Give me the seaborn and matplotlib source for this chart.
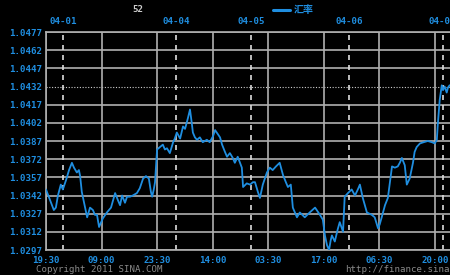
import matplotlib
matplotlib.use("Agg")
import matplotlib.pyplot as plt
import seaborn as sns
import pandas as pd

# elapsed trading hours (position along the axis) and exchange rate
hours = [0, 1.0, 1.9, 2.4, 2.9, 3.6, 4.1, 4.9, 5.6, 6.3, 6.8, 7.5, 8.0, 8.3, 8.7,
         9.5, 10.0, 10.7, 11.4, 11.9, 12.4, 12.9, 13.4, 13.8, 14.8, 15.8, 16.3,
         16.8, 17.5, 18.0, 18.5, 19.2, 19.7, 20.4, 21.1, 22.1, 22.8, 23.6, 24.3,
         25.0, 25.5, 25.8, 26.2, 26.5, 27.0, 27.7, 28.4, 28.9, 29.4, 30.1, 30.9,
         31.3, 31.8, 32.6, 33.3, 33.8, 34.5, 35.0, 35.5, 35.7, 36.2, 36.7, 37.4,
         38.1, 39.1, 39.8, 40.6, 41.1, 41.5, 42.3, 42.8, 43.5, 44.0, 44.7, 45.4,
         45.9, 46.6, 47.6, 47.9, 48.8, 49.6, 50.3, 50.8, 51.5, 52.0, 52.7, 53.7,
         54.4, 55.1, 55.9, 56.8, 57.6, 58.3, 58.8, 59.5, 60.0, 61.0, 61.7, 62.9,
         64.1, 65.4, 66.6, 67.3, 67.8, 68.3, 68.8, 69.2, 69.5, 70.2, 70.9, 71.4,
         72.2, 72.6, 73.4, 74.3, 75.1, 75.8, 76.3, 77.0, 78.0, 79.2, 79.9, 80.7,
         81.1, 81.6, 82.4, 83.1, 84.1, 84.8, 85.5, 86.0, 86.5, 87.2, 87.7, 88.4,
         89.2, 89.6, 90.1, 90.9, 91.8, 92.8, 93.8, 94.5, 95.0, 95.2, 95.7, 96.2,
         96.5, 96.9, 97.4, 97.7, 98.1]
rate = [1.0347, 1.0338, 1.0330, 1.0332, 1.0342, 1.0351, 1.0347, 1.0355, 1.0363,
        1.0369, 1.0365, 1.0361, 1.0363, 1.0358, 1.0345, 1.0332, 1.0324, 1.0332,
        1.0330, 1.0326, 1.0326, 1.0316, 1.0320, 1.0323, 1.0328, 1.0332, 1.0338,
        1.0344, 1.0338, 1.0334, 1.0342, 1.0336, 1.0341, 1.0341, 1.0342, 1.0344,
        1.0348, 1.0356, 1.0358, 1.0356, 1.0345, 1.0341, 1.0347, 1.0353, 1.0380,
        1.0382, 1.0384, 1.0380, 1.0381, 1.0377, 1.0386, 1.0389, 1.0394, 1.0389,
        1.0399, 1.0397, 1.0406, 1.0413, 1.0400, 1.0394, 1.0390, 1.0388, 1.0390,
        1.0386, 1.0388, 1.0386, 1.0391, 1.0396, 1.0394, 1.0390, 1.0384, 1.0378,
        1.0374, 1.0377, 1.0373, 1.0369, 1.0374, 1.0365, 1.0349, 1.0352, 1.0351,
        1.0353, 1.0353, 1.0345, 1.0340, 1.0351, 1.0361, 1.0365, 1.0363, 1.0366,
        1.0369, 1.0359, 1.0353, 1.0349, 1.0351, 1.0332, 1.0324, 1.0328, 1.0324,
        1.0328, 1.0332, 1.0326, 1.0322, 1.0309, 1.0301, 1.0297, 1.0305, 1.0309,
        1.0304, 1.0314, 1.0320, 1.0312, 1.0341, 1.0344, 1.0347, 1.0342, 1.0347,
        1.0351, 1.0340, 1.0328, 1.0326, 1.0324, 1.0315, 1.0318, 1.0324, 1.0334,
        1.0340, 1.0366, 1.0365, 1.0366, 1.0369, 1.0373, 1.0367, 1.0351, 1.0356,
        1.0369, 1.0378, 1.0382, 1.0385, 1.0386, 1.0387, 1.0386, 1.0385, 1.0388,
        1.0399, 1.0421, 1.0433, 1.0429, 1.0432, 1.0427, 1.0431, 1.0433]

y_ticks = [1.0297, 1.0312, 1.0327, 1.0342, 1.0357, 1.0372, 1.0387, 1.0402,
           1.0417, 1.0432, 1.0447, 1.0462, 1.0477]
ref_level = 1.0432
x_ticks = [0, 13.5, 27, 40.5, 54, 67.5, 81, 94.5]
x_labels = ["19:30", "09:00", "23:30", "14:00", "03:30", "17:00", "06:30", "20:00"]
date_pos = [4.2, 31.6, 49.8, 73.7, 96.4]
date_labels = ["04-01", "04-04", "04-05", "04-06", "04-07"]
series_name = "汇率"

df = pd.DataFrame({"hours": hours, "rate": rate})

sns.set_theme(style="dark")
plt.rcParams["font.family"] = ["DejaVu Sans Mono", "Noto Sans CJK SC"]

BLUE = "#1f8ee0"
GRID = "#b0b0b0"

fig = plt.figure(figsize=(4.5, 2.75), dpi=100, facecolor="black")
ax = fig.add_axes([46 / 450, 1 - 250 / 275, 1 - 46 / 450, 218 / 275])
ax.set_facecolor("black")

for yv in y_ticks:
    if abs(yv - ref_level) < 1e-6:
        ax.axhline(yv, color="#cccccc", lw=0.8, ls=(0, (1, 1.5)), zorder=1)
    else:
        ax.axhline(yv, color=GRID, lw=1.2, zorder=1)
for xv in x_ticks:
    ax.axvline(xv, color=GRID, lw=1.2, zorder=1)
for xv in date_pos:
    ax.axvline(xv, color="#dddddd", lw=1.2, ls=(0, (3, 3)), zorder=1)

sns.lineplot(data=df, x="hours", y="rate", ax=ax, color=BLUE, lw=1.3,
             legend=False, zorder=3)

ax.set_xlim(0, 98.2)
ax.set_ylim(y_ticks[0], y_ticks[-1])
ax.set_yticks(y_ticks)
ax.set_yticklabels([f"{v:.4f}" for v in y_ticks])
ax.set_xticks(x_ticks)
ax.set_xticklabels(x_labels)
ax.set_xlabel("")
ax.set_ylabel("")
ax.tick_params(axis="y", length=0, pad=2.5, labelsize=6.6, labelcolor=BLUE)
ax.tick_params(axis="x", length=0, pad=4.0, labelsize=6.6, labelcolor=BLUE)
for lab in ax.get_yticklabels() + ax.get_xticklabels():
    lab.set_fontweight("bold")
for side in ["left", "top", "bottom"]:
    ax.spines[side].set_color(GRID)
    ax.spines[side].set_linewidth(1.2)
ax.spines["right"].set_visible(False)

top = ax.twiny()
top.set_xlim(ax.get_xlim())
top.set_xticks(date_pos)
top.set_xticklabels(date_labels)
top.tick_params(axis="x", length=0, pad=4.0, labelsize=6.6, labelcolor=BLUE)
for lab in top.get_xticklabels():
    lab.set_fontweight("bold")
for s in top.spines.values():
    s.set_visible(False)

fig.text(138 / 450, 1 - 10 / 275, "52", color="#cccccc", fontsize=6.6,
         ha="center", va="center", fontweight="bold")
fig.lines.append(plt.Line2D([273 / 450, 290 / 450], [1 - 10 / 275, 1 - 10 / 275],
                            transform=fig.transFigure, color=BLUE, lw=2.2))
fig.text(294 / 450, 1 - 10 / 275, series_name, color=BLUE, fontsize=7.2,
         ha="left", va="center", family=["Noto Sans CJK SC", "DejaVu Sans"],
         fontweight="bold")
fig.text(36 / 450, 1 - 270 / 275, "Copyright 2011 SINA.COM", color="#8a8a8a",
         fontsize=6.6, ha="left", va="center")
fig.text(345 / 450, 1 - 270 / 275, "http://finance.sina.com.cn", color="#8a8a8a",
         fontsize=6.6, ha="left", va="center")

fig.savefig("out.png", dpi=100, facecolor="black")
